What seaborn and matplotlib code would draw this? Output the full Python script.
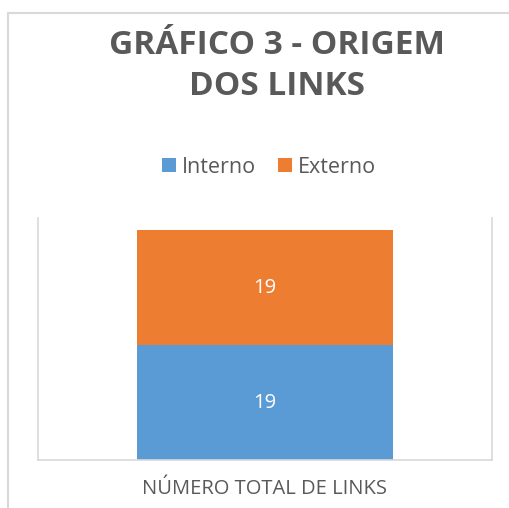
import matplotlib
matplotlib.use("Agg")
import matplotlib.pyplot as plt
import seaborn as sns
import pandas as pd
from matplotlib.lines import Line2D

categories = ["NÚMERO TOTAL DE LINKS"]
interno = [19]
externo = [19]
series = ["Interno", "Externo"]
colors = ["#5B9BD5", "#ED7D31"]
title = "GRÁFICO 3 - ORIGEM\nDOS LINKS"

sns.set_theme(style="white")
plt.rcParams['font.family'] = ['Open Sans', 'DejaVu Sans']

W, H = 510, 508
fig = plt.figure(figsize=(W / 100, H / 100), dpi=100)
ax = fig.add_axes([38 / W, 1 - 460 / H, (492 - 38) / W, (460 - 218) / H])

df = pd.DataFrame({"cat": categories, "Interno": interno, "Externo": externo})

sns.barplot(data=df, x="cat", y="Interno", color=colors[0], width=0.564,
            saturation=1, ax=ax, label=series[0], linewidth=0)
sns.barplot(data=df, x="cat", y="Externo", color=colors[1], width=0.564,
            saturation=1, ax=ax, label=series[1], bottom=df["Interno"].values,
            linewidth=0)

for c in ax.containers:
    ax.bar_label(c, label_type="center", color="white", fontsize=14.5)

ax.set_ylim(0, 40)
ax.set_xlim(-0.5, 0.5)
ax.set_yticks([])
ax.set_xlabel("")
ax.set_ylabel("")
ax.tick_params(axis="x", length=0, pad=14, labelsize=14.5, labelcolor="#595959")
for s in ["left", "right", "bottom"]:
    ax.spines[s].set_color("#d9d9d9")
    ax.spines[s].set_linewidth(1.2)
ax.spines["top"].set_visible(False)

ax.legend(loc="center", bbox_to_anchor=(269 / W, 1 - 167 / H),
          bbox_transform=fig.transFigure, ncol=2, frameon=False, fontsize=15.5,
          handlelength=0.65, handleheight=0.65, handletextpad=0.3,
          columnspacing=1.0, labelcolor="#595959", borderaxespad=0)

fig.text(277 / W, 1 - 66 / H, title, ha="center", va="center", fontsize=24,
         fontweight="bold", color="#595959", linespacing=1.32)

# chart area border
fig.add_artist(Line2D([8 / W, 8 / W], [0, 1 - 13 / H], transform=fig.transFigure,
                      color="#d9d9d9", lw=1.5))
fig.add_artist(Line2D([8 / W, 1], [1 - 13 / H, 1 - 13 / H], transform=fig.transFigure,
                      color="#d9d9d9", lw=1.5))

fig.savefig("out.png", dpi=100)
